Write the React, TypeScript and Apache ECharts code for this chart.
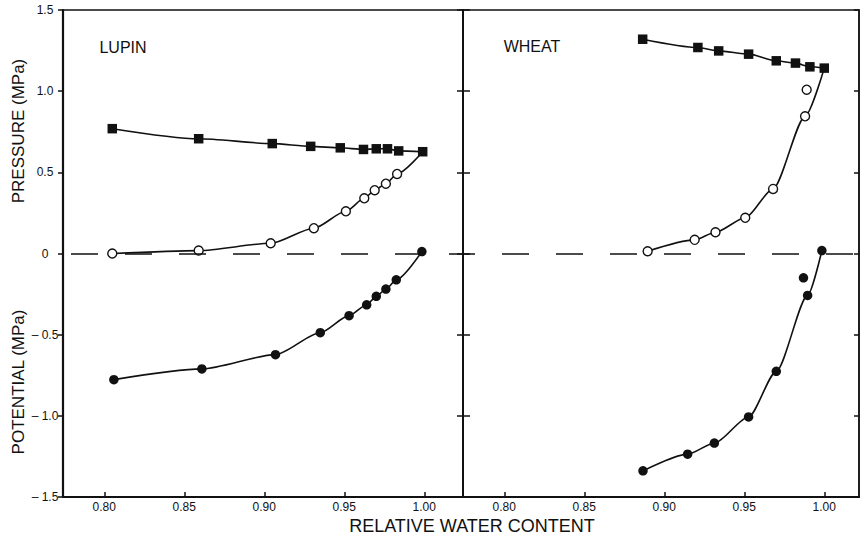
import React, { useEffect, useRef } from "react";
import * as echarts from "echarts";

// ---- Data ----
const xTicks = [0.8, 0.85, 0.9, 0.95, 1.0];
const yTicks = [-1.5, -1.0, -0.5, 0, 0.5, 1.0, 1.5];

// LUPIN
const lupinOsmoticX = [0.805, 0.859, 0.905, 0.929, 0.9475, 0.962, 0.970, 0.977, 0.984, 0.999];
const lupinOsmotic = [0.769, 0.707, 0.677, 0.66, 0.651, 0.641, 0.645, 0.645, 0.632, 0.627];
const lupinTurgorX = [0.805, 0.859, 0.904, 0.931, 0.951, 0.9625, 0.969, 0.976, 0.983, 0.999];
const lupinTurgor = [0.0, 0.018, 0.063, 0.156, 0.26, 0.34, 0.39, 0.43, 0.49, 0.627];
const lupinPotentialX = [0.806, 0.861, 0.907, 0.935, 0.953, 0.964, 0.970, 0.976, 0.9825, 0.9985];
const lupinPotential = [-0.777, -0.711, -0.623, -0.488, -0.383, -0.316, -0.264, -0.219, -0.162, 0.012];

// WHEAT
const wheatOsmoticX = [0.8865, 0.921, 0.934, 0.9527, 0.970, 0.982, 0.991, 1.0];
const wheatOsmotic = [1.32, 1.269, 1.248, 1.228, 1.187, 1.173, 1.15, 1.142];
const wheatTurgorX = [0.8896, 0.919, 0.932, 0.9506, 0.968, 0.988, 1.0];
const wheatTurgor = [0.014, 0.084, 0.131, 0.22, 0.398, 0.845, 1.142];
const wheatTurgorExtraX = [0.989];
const wheatTurgorExtra = [1.009];
const wheatPotentialX = [0.8867, 0.9146, 0.9313, 0.9527, 0.97, 0.9896, 0.9985];
const wheatPotential = [-1.339, -1.236, -1.168, -1.007, -0.726, -0.258, 0.018];
const wheatPotentialExtraX = [0.987];
const wheatPotentialExtra = [-0.15];

const INK = "#111";
const FONT = "'Liberation Sans', Arial, Helvetica, sans-serif";

const zip = (xs: number[], ys: number[]) => xs.map((x, i) => [x, ys[i]]);

export default function App() {
  const ref = useRef<HTMLDivElement>(null);

  useEffect(() => {
    if (!ref.current) return;
    const chart = echarts.init(ref.current, null, { renderer: "svg" });

    const xAxisBase = (gridIndex: number, max: number) => ({
      type: "value",
      gridIndex,
      min: 0.7742,
      max,
      position: "bottom",
      splitLine: { show: false },
      axisLine: { show: true, onZero: false, lineStyle: { color: INK, width: 2 } },
      axisTick: {
        show: true,
        inside: true,
        length: 5,
        customValues: xTicks,
        lineStyle: { color: INK, width: 1.5 },
      },
      axisLabel: {
        show: true,
        customValues: xTicks,
        margin: 4,
        color: INK,
        fontSize: 12,
        fontFamily: FONT,
        formatter: (v: number) => v.toFixed(2),
      },
    });

    const yLabelFmt = (v: number) =>
      v === 0 ? "0" : v < 0 ? "– " + Math.abs(v).toFixed(1) : v.toFixed(1);

    const yAxisBase = (
      gridIndex: number,
      position: string,
      showLabel: boolean,
      inside: boolean,
      len: number,
      lineWidth: number
    ) => ({
      type: "value",
      gridIndex,
      position,
      min: yTicks[0],
      max: yTicks[yTicks.length - 1],
      interval: 0.5,
      splitLine: { show: false },
      axisLine: { show: true, onZero: false, lineStyle: { color: INK, width: lineWidth } },
      axisTick: { show: true, inside, length: len, lineStyle: { color: INK, width: 1.5 } },
      axisLabel: {
        show: showLabel,
        color: INK,
        fontSize: 12,
        fontFamily: FONT,
        align: "center",
        margin: 18,
        formatter: yLabelFmt,
      },
    });

    const lineSeries = (
      name: string,
      xi: number,
      data: number[][],
      symbol: string,
      size: number,
      filled: boolean,
      noLastSymbol = false
    ) => ({
      name,
      type: "line",
      xAxisIndex: xi,
      yAxisIndex: xi * 2,
      data: data.map((d, i) =>
        noLastSymbol && i === data.length - 1 ? { value: d, symbol: "none" } : { value: d }
      ),
      symbol,
      symbolSize: size,
      showAllSymbol: true,
      smooth: 0.25,
      smoothMonotone: "x",
      z: 3,
      lineStyle: { color: INK, width: 1.6 },
      itemStyle: {
        color: filled ? INK : "#fff",
        borderColor: INK,
        borderWidth: filled ? 0 : 1.4,
      },
    });

    const scatterSeries = (
      name: string,
      xi: number,
      data: number[][],
      size: number,
      filled: boolean
    ) => ({
      name,
      type: "scatter",
      xAxisIndex: xi,
      yAxisIndex: xi * 2,
      data,
      symbol: "circle",
      symbolSize: size,
      z: 4,
      itemStyle: {
        color: filled ? INK : "#fff",
        borderColor: INK,
        borderWidth: filled ? 0 : 1.4,
        opacity: 1,
      },
    });

    const zeroLine = (offset: number) => ({
      silent: true,
      symbol: "none",
      label: { show: false },
      lineStyle: { color: INK, width: 1.6, type: [27, 27], dashOffset: offset },
      data: [{ yAxis: 0 }],
    });

    const option: any = {
      animation: false,
      backgroundColor: "#fff",
      grid: [
        { left: 63, top: 10, width: 400, height: 487, show: true, borderColor: INK, borderWidth: 1.5 },
        { left: 463, top: 10, width: 396, height: 487, show: true, borderColor: INK, borderWidth: 1.5 },
      ],
      xAxis: [xAxisBase(0, 1.0242), xAxisBase(1, 1.0217)],
      yAxis: [
        yAxisBase(0, "left", true, false, 5, 2.2),
        yAxisBase(0, "right", false, true, 6, 2),
        yAxisBase(1, "left", false, true, 7, 2),
        yAxisBase(1, "right", false, true, 5, 1.5),
      ],
      series: [
        { ...lineSeries("Lupin osmotic", 0, zip(lupinOsmoticX, lupinOsmotic), "rect", 9.5, true) },
        { ...lineSeries("Lupin turgor", 0, zip(lupinTurgorX, lupinTurgor), "circle", 9, false, true) },
        {
          ...lineSeries("Lupin potential", 0, zip(lupinPotentialX, lupinPotential), "circle", 9.5, true),
          markLine: zeroLine(46),
        },
        { ...lineSeries("Wheat osmotic", 1, zip(wheatOsmoticX, wheatOsmotic), "rect", 9.5, true) },
        { ...lineSeries("Wheat turgor", 1, zip(wheatTurgorX, wheatTurgor), "circle", 9, false, true) },
        scatterSeries("Wheat turgor (extra)", 1, zip(wheatTurgorExtraX, wheatTurgorExtra), 9, false),
        {
          ...lineSeries("Wheat potential", 1, zip(wheatPotentialX, wheatPotential), "circle", 9.5, true),
          markLine: zeroLine(15),
        },
        scatterSeries("Wheat potential (extra)", 1, zip(wheatPotentialExtraX, wheatPotentialExtra), 9.5, true),
      ],
      graphic: [
        {
          type: "text",
          x: 123,
          y: 47,
          style: { text: "LUPIN", fill: INK, font: `16px ${FONT}`, align: "center", verticalAlign: "middle" },
        },
        {
          type: "text",
          x: 532,
          y: 46,
          style: { text: "WHEAT", fill: INK, font: `16px ${FONT}`, align: "center", verticalAlign: "middle" },
        },
        {
          type: "text",
          x: 18,
          y: 131,
          rotation: Math.PI / 2,
          style: { text: "PRESSURE (MPa)", fill: INK, font: `17px ${FONT}`, align: "center", verticalAlign: "middle" },
        },
        {
          type: "text",
          x: 18,
          y: 382,
          rotation: Math.PI / 2,
          style: { text: "POTENTIAL (MPa)", fill: INK, font: `17px ${FONT}`, align: "center", verticalAlign: "middle" },
        },
        {
          type: "text",
          x: 472,
          y: 526,
          style: {
            text: "RELATIVE WATER CONTENT",
            fill: INK,
            font: `18px ${FONT}`,
            align: "center",
            verticalAlign: "middle",
          },
        },
      ],
    };

    chart.setOption(option);
    return () => chart.dispose();
  }, []);

  return <div ref={ref} style={{ width: 861, height: 538, position: "absolute", left: 0, top: 0 }} />;
}
